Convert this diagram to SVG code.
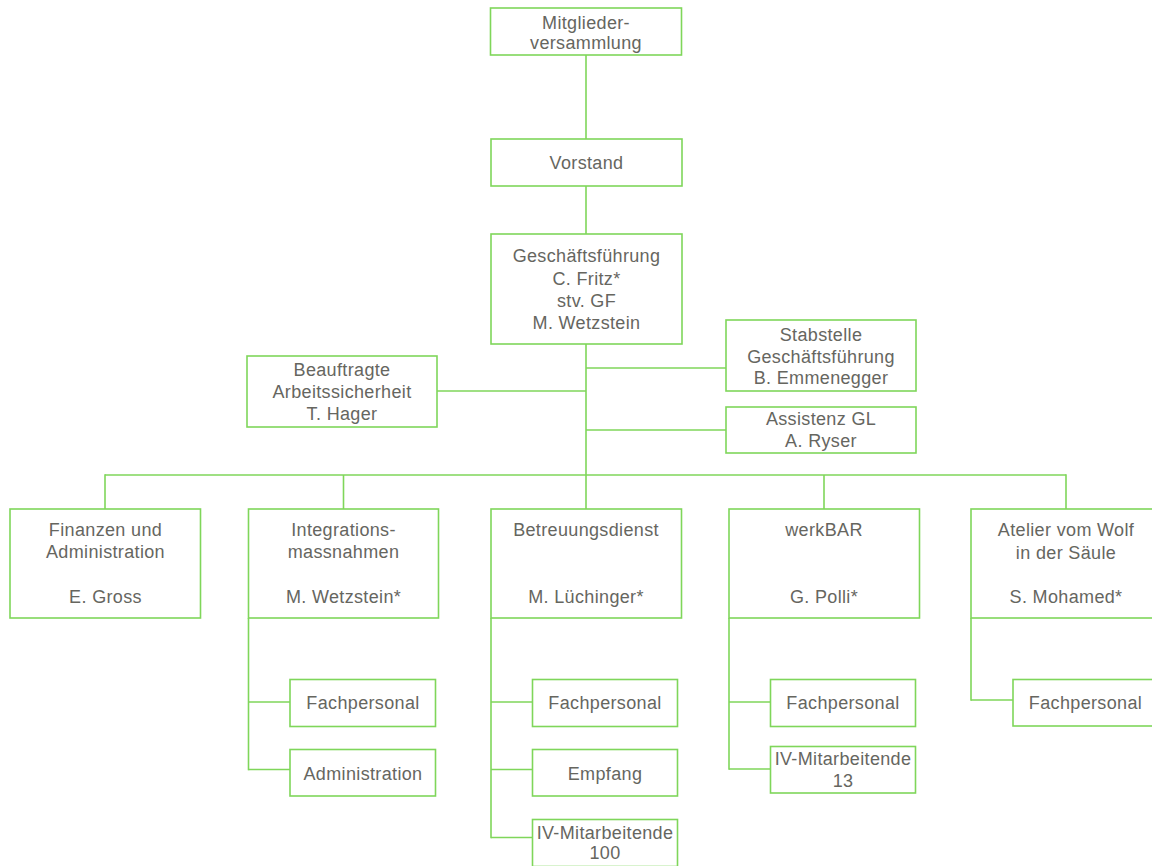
<svg xmlns="http://www.w3.org/2000/svg" width="1152" height="866" viewBox="0 0 1152 866">
<style>
rect.b{fill:#ffffff;stroke:#7fd65a;stroke-width:1.6}
.c line{stroke:#7fd65a;stroke-width:1.6}
text{font-family:"Liberation Sans",Arial,sans-serif;font-size:18px;letter-spacing:0.35px;fill:#66665f;text-anchor:middle}
</style>
<rect width="1152" height="866" fill="#ffffff"/>
<g class="c" id="connectors">
<line x1="586" y1="55" x2="586" y2="139"/>
<line x1="586" y1="186" x2="586" y2="234"/>
<line x1="586" y1="344" x2="586" y2="475"/>
<line x1="437" y1="391" x2="586" y2="391"/>
<line x1="586" y1="368" x2="726" y2="368"/>
<line x1="586" y1="430" x2="726" y2="430"/>
<line x1="105" y1="475" x2="1066" y2="475"/>
<line x1="105" y1="474.2" x2="105" y2="509"/>
<line x1="343.5" y1="475" x2="343.5" y2="509"/>
<line x1="586" y1="475" x2="586" y2="509"/>
<line x1="824" y1="475" x2="824" y2="509"/>
<line x1="1066" y1="474.2" x2="1066" y2="509"/>
<line x1="248.5" y1="618" x2="248.5" y2="770.3"/>
<line x1="248.5" y1="702" x2="290" y2="702"/>
<line x1="248.5" y1="769.5" x2="290" y2="769.5"/>
<line x1="491" y1="618" x2="491" y2="838.3"/>
<line x1="491" y1="702" x2="532.5" y2="702"/>
<line x1="491" y1="769.5" x2="532.5" y2="769.5"/>
<line x1="491" y1="837.5" x2="532.5" y2="837.5"/>
<line x1="729" y1="618" x2="729" y2="769.8"/>
<line x1="729" y1="702" x2="770.5" y2="702"/>
<line x1="729" y1="769" x2="770.5" y2="769"/>
<line x1="971" y1="618" x2="971" y2="700.8"/>
<line x1="971" y1="700" x2="1013" y2="700"/>
</g>
<g id="mitgliederversammlung"><rect class="b" x="490.5" y="8" width="191" height="47"/><text x="586" y="29">Mitglieder-</text><text x="586" y="48.5">versammlung</text></g>
<g id="vorstand"><rect class="b" x="491" y="139" width="191" height="47"/><text x="586.5" y="169.3">Vorstand</text></g>
<g id="geschaeftsfuehrung"><rect class="b" x="491" y="234" width="191" height="110"/><text x="586.5" y="262.3">Geschäftsführung</text><text x="586.5" y="284.6">C. Fritz*</text><text x="586.5" y="306.9">stv. GF</text><text x="586.5" y="329.2">M. Wetzstein</text></g>
<g id="beauftragte"><rect class="b" x="247" y="356" width="190" height="71"/><text x="342" y="376">Beauftragte</text><text x="342" y="398.2">Arbeitssicherheit</text><text x="342" y="420.2">T. Hager</text></g>
<g id="stabstelle"><rect class="b" x="726" y="320" width="190" height="71"/><text x="821" y="340.7">Stabstelle</text><text x="821" y="362.5">Geschäftsführung</text><text x="821" y="383.5">B. Emmenegger</text></g>
<g id="assistenz"><rect class="b" x="726" y="407" width="190" height="46"/><text x="821" y="425">Assistenz GL</text><text x="821" y="446.7">A. Ryser</text></g>
<g id="finanzen"><rect class="b" x="10" y="509" width="190.5" height="109"/><text x="105.5" y="535.7">Finanzen und</text><text x="105.5" y="558.3">Administration</text><text x="105.5" y="603.3">E. Gross</text></g>
<g id="integration"><rect class="b" x="248.5" y="509" width="190" height="109"/><text x="343.5" y="535.7">Integrations-</text><text x="343.5" y="558.3">massnahmen</text><text x="343.5" y="603.3">M. Wetzstein*</text></g>
<g id="betreuungsdienst"><rect class="b" x="491" y="509" width="190.5" height="109"/><text x="586" y="535.7">Betreuungsdienst</text><text x="586" y="603.3">M. Lüchinger*</text></g>
<g id="werkbar"><rect class="b" x="729" y="509" width="190.5" height="109"/><text x="824" y="535.7">werkBAR</text><text x="824" y="603.3">G. Polli*</text></g>
<g id="atelier"><rect class="b" x="971" y="509" width="191" height="109"/><text x="1066" y="536">Atelier vom Wolf</text><text x="1066" y="558.8">in der Säule</text><text x="1066" y="603.3">S. Mohamed*</text></g>
<g id="int-fachpersonal"><rect class="b" x="290" y="679.5" width="145.5" height="47"/><text x="363" y="709.3">Fachpersonal</text></g>
<g id="int-administration"><rect class="b" x="290" y="749.5" width="145.5" height="46.5"/><text x="363" y="779.5">Administration</text></g>
<g id="bet-fachpersonal"><rect class="b" x="532.5" y="679.5" width="145" height="47"/><text x="605" y="709.3">Fachpersonal</text></g>
<g id="bet-empfang"><rect class="b" x="532.5" y="749.5" width="145" height="46.5"/><text x="605" y="779.5">Empfang</text></g>
<g id="bet-iv"><rect class="b" x="532.5" y="819.5" width="145" height="47"/><text x="605" y="839">IV-Mitarbeitende</text><text x="605" y="859.3">100</text></g>
<g id="werk-fachpersonal"><rect class="b" x="770.5" y="679.5" width="145" height="47"/><text x="843" y="709.3">Fachpersonal</text></g>
<g id="werk-iv"><rect class="b" x="770.5" y="746.5" width="145" height="46.5"/><text x="843" y="765">IV-Mitarbeitende</text><text x="843" y="786.7">13</text></g>
<g id="atelier-fachpersonal"><rect class="b" x="1013" y="679.5" width="145" height="46.5"/><text x="1085.5" y="709.3">Fachpersonal</text></g>
</svg>
